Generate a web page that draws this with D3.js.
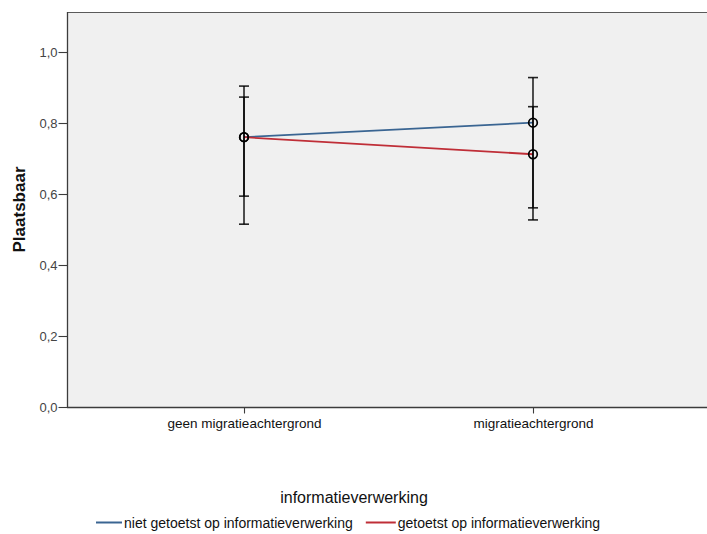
<!DOCTYPE html>
<html>
<head>
<meta charset="utf-8">
<script src="https://cdn.jsdelivr.net/npm/d3@7"></script>
<style>
  html, body { margin: 0; padding: 0; background: #ffffff; }
  svg { display: block; font-family: "Liberation Sans", Arial, sans-serif; }
</style>
</head>
<body>
<svg id="chart" width="707" height="534"></svg>
<script>
// ---- data ----
const categories = ["geen migratieachtergrond", "migratieachtergrond"];
const seriesNames = ["niet getoetst op informatieverwerking", "getoetst op informatieverwerking"];
const meanNiet = [0.760, 0.801];
const meanGetoetst = [0.760, 0.712];
const lowerNiet = [0.594, 0.527];
const upperNiet = [0.904, 0.928];
const lowerGetoetst = [0.515, 0.561];
const upperGetoetst = [0.873, 0.846];
const yTickValues = [0.0, 0.2, 0.4, 0.6, 0.8, 1.0];
const yTickLabels = ["0,0", "0,2", "0,4", "0,6", "0,8", "1,0"];
const yTitle = "Plaatsbaar";
const legendTitle = "informatieverwerking";
const seriesColors = ["#3a6592", "#bf2e37"];

const series = [
  { name: seriesNames[0], means: meanNiet, lower: lowerNiet, upper: upperNiet, color: seriesColors[0] },
  { name: seriesNames[1], means: meanGetoetst, lower: lowerGetoetst, upper: upperGetoetst, color: seriesColors[1] }
];

// ---- layout ----
const svg = d3.select("#chart");
const plot = { left: 67, top: 12, right: 710, bottom: 407 };

const x = d3.scalePoint().domain(categories).range([plot.left, plot.right]).padding(0.6125);
const y = d3.scaleLinear().domain([0, 1.1127]).range([plot.bottom, plot.top]);

// background
svg.append("rect")
  .attr("x", plot.left).attr("y", plot.top)
  .attr("width", plot.right - plot.left).attr("height", plot.bottom - plot.top)
  .attr("fill", "#f0f0f0");

// frame top
svg.append("line").attr("x1", plot.left).attr("x2", plot.right)
  .attr("y1", plot.top + 0.5).attr("y2", plot.top + 0.5)
  .attr("stroke", "#5a5a5a").attr("stroke-width", 1.2);

// y axis
const yAxis = d3.axisLeft(y).tickValues(yTickValues)
  .tickFormat((d, i) => yTickLabels[i]).tickSize(9).tickPadding(1).tickSizeOuter(0);
const gy = svg.append("g").attr("transform", `translate(${plot.left + 0.5},0)`).call(yAxis);
gy.select(".domain").attr("stroke", "#3c3c3c").attr("stroke-width", 1.3)
  .attr("d", `M0,${plot.top}V${plot.bottom}`);
gy.selectAll(".tick line").attr("stroke", "#3c3c3c").attr("stroke-width", 1.1);
gy.selectAll(".tick text").attr("fill", "#444").style("font-size", "13px")
  .style("font-family", "'Liberation Sans', Arial, sans-serif");

// x axis
const xAxis = d3.axisBottom(x).tickSize(6).tickPadding(5).tickSizeOuter(0);
const gx = svg.append("g").attr("transform", `translate(0,${plot.bottom + 0.5})`).call(xAxis);
gx.select(".domain").attr("stroke", "#3c3c3c").attr("stroke-width", 1.3)
  .attr("d", `M${plot.left},0H${plot.right}`);
gx.selectAll(".tick line").attr("stroke", "#3c3c3c").attr("stroke-width", 1.1);
gx.selectAll(".tick text").attr("fill", "#111").style("font-size", "13.5px")
  .style("font-family", "'Liberation Sans', Arial, sans-serif");

// y title (centred on the plot area)
svg.append("text")
  .attr("transform", `translate(25,${(plot.top + plot.bottom) / 2}) rotate(-90)`)
  .attr("text-anchor", "middle")
  .style("font-size", "17px").style("font-weight", "bold")
  .attr("fill", "#111")
  .text(yTitle);

// lines
const line = d3.line().x(d => x(d.cat)).y(d => y(d.v));
series.forEach(s => {
  svg.append("path")
    .datum(categories.map((c, i) => ({ cat: c, v: s.means[i] })))
    .attr("d", line)
    .attr("fill", "none")
    .attr("stroke", s.color)
    .attr("stroke-width", 1.8);
});

// error bars
const capHalf = 5;
series.forEach(s => {
  categories.forEach((c, i) => {
    const g = svg.append("g").attr("stroke", "#000").attr("stroke-width", 1.6).attr("stroke-opacity", 0.85);
    g.append("line").attr("x1", x(c)).attr("x2", x(c)).attr("y1", y(s.lower[i])).attr("y2", y(s.upper[i]));
    g.append("line").attr("x1", x(c) - capHalf).attr("x2", x(c) + capHalf).attr("y1", y(s.lower[i])).attr("y2", y(s.lower[i]));
    g.append("line").attr("x1", x(c) - capHalf).attr("x2", x(c) + capHalf).attr("y1", y(s.upper[i])).attr("y2", y(s.upper[i]));
  });
});

// markers
series.forEach(s => {
  categories.forEach((c, i) => {
    svg.append("circle")
      .attr("cx", x(c)).attr("cy", y(s.means[i])).attr("r", 4.3)
      .attr("fill", "none").attr("stroke", "#000").attr("stroke-width", 1.7);
  });
});

// legend
svg.append("text")
  .attr("x", 354).attr("y", 503)
  .attr("text-anchor", "middle")
  .style("font-size", "16px").attr("fill", "#111")
  .text(legendTitle);

const lg = svg.append("g");
let lx = 96;
const ly = 522.5;
series.forEach((s, i) => {
  const lineLen = i === 0 ? 26 : 30;
  lg.append("line").attr("x1", lx).attr("x2", lx + lineLen).attr("y1", ly).attr("y2", ly)
    .attr("stroke", s.color).attr("stroke-width", 2);
  const t = lg.append("text").attr("x", lx + lineLen + 2).attr("y", 527.5)
    .style("font-size", "14px").attr("fill", "#111").text(s.name);
  lx = lx + lineLen + 2 + t.node().getComputedTextLength() + 13;
});
</script>
</body>
</html>
